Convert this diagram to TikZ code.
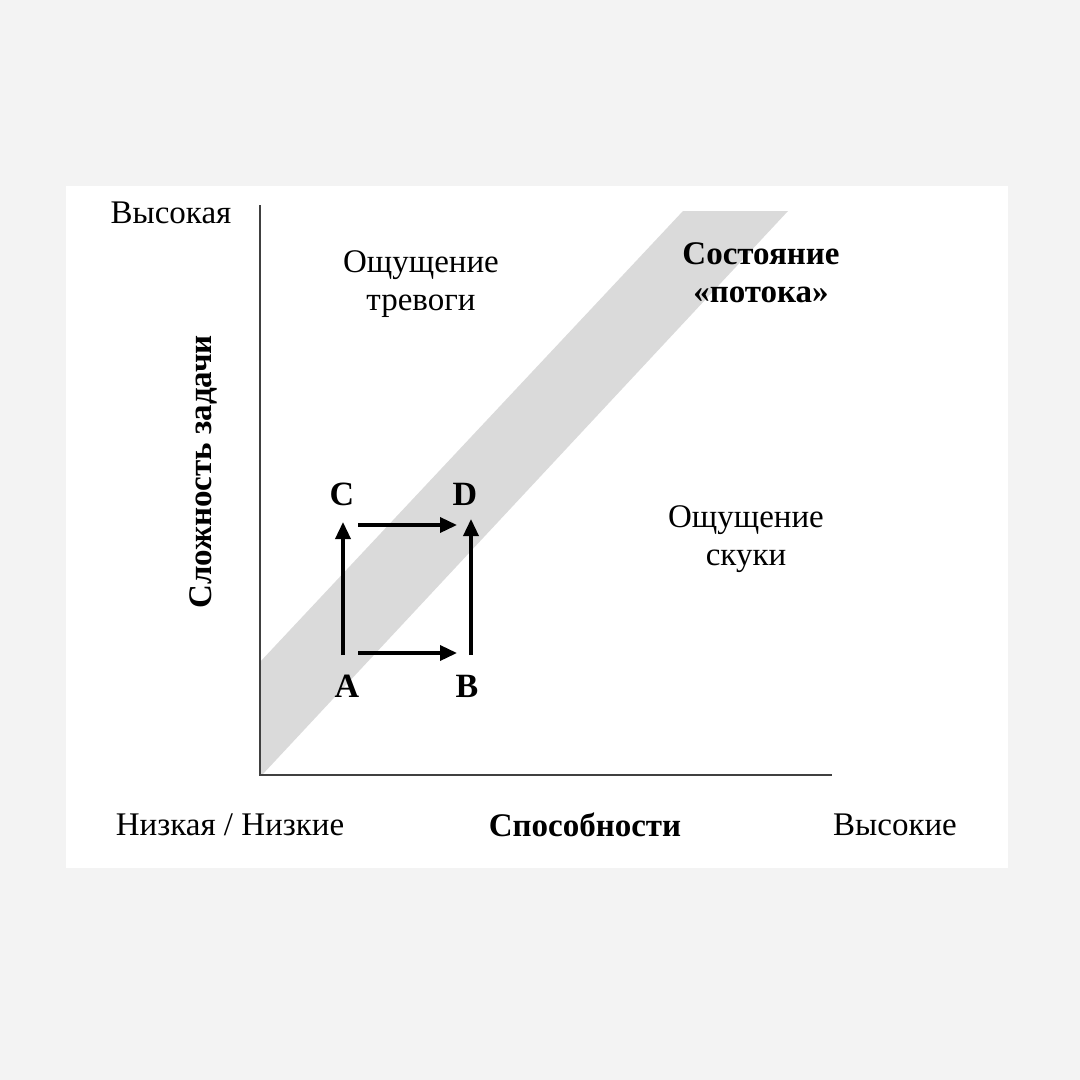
\documentclass[tikz,border=0pt]{standalone}
\usepackage{fontspec}
\setmainfont{Liberation Serif}
\usepackage{xcolor}
\usepackage{tikz}
\usetikzlibrary{positioning,arrows.meta}
\definecolor{pagegray}{RGB}{243,243,243}
\definecolor{bandgray}{RGB}{218,218,218}
\definecolor{axisgray}{RGB}{64,64,64}

\begin{document}
\begin{tikzpicture}[x=1pt, y=-1pt,
					txt/.style={
						font=\fontsize{33}{38}\selectfont,
						align=center, inner sep=0pt, anchor=center
					},
					boldtxt/.style={txt, font=\fontsize{33}{38}\selectfont\bfseries},
					corner/.style={txt, font=\fontsize{34}{38}\selectfont\bfseries},
					move/.style={line width=3.5pt, -{Triangle[length=17pt,width=15pt]}}
					]
					% Nền và khung trắng
					\useasboundingbox (0,0) rectangle (1080,1080);
					\fill[pagegray] (0,0) rectangle (1080,1080);
					\fill[white] (66,186) rectangle (1008,868);
					% Dải xám của trạng thái dòng chảy
					\fill[bandgray] (260,662) -- (683,211) -- (788,211) -- (262,775) -- (260,775) -- cycle;
					% Hai trục
					\draw[axisgray, line width=2.2pt] (260,205) -- (260,775) -- (832,775);
					% Các nhãn chữ
					\node[txt] (high) at (171,213) {Высокая};
					\node[boldtxt, rotate=90] (yaxis) at (203,472) {Сложность задачи};
					\node[txt] (anxiety) at (421,284) {Ощущение\\тревоги};
					\node[boldtxt] (flow) at (761,273) {Состояние\\«потока»};
					\node[txt] (boredom) at (746,539) {Ощущение\\скуки};
					\node[txt] (low) at (230,825) {Низкая / Низкие};
					\node[boldtxt] (xaxis) at (585,825) {Способности};
					\node[txt] (highx) at (895,825) {Высокие};
					% Bốn điểm A, B, C, D
					\node[corner] (A) at (347,686) {A};
					\node[corner] (B) at (467,686) {B};
					\node[corner] (C) at (342,494) {C};
					\node[corner] (D) at (465,494) {D};
					\coordinate (pA) at (343,655);
					\coordinate (pB) at (471,655);
					\coordinate (pC) at (343,522);
					\coordinate (pD) at (471,519);
					% Các mũi tên
					\draw[move] (pA) -- (pC);
					\draw[move] (pB) -- (pD);
					\draw[move, shorten <=15pt, shorten >=14pt] ([yshift=2pt]pA) -- ([yshift=2pt]pB);
					\draw[move, shorten <=15pt, shorten >=14pt] ([yshift=-3pt]pC) -- ([yshift=-6pt]pD);
				\end{tikzpicture}
\end{document}
